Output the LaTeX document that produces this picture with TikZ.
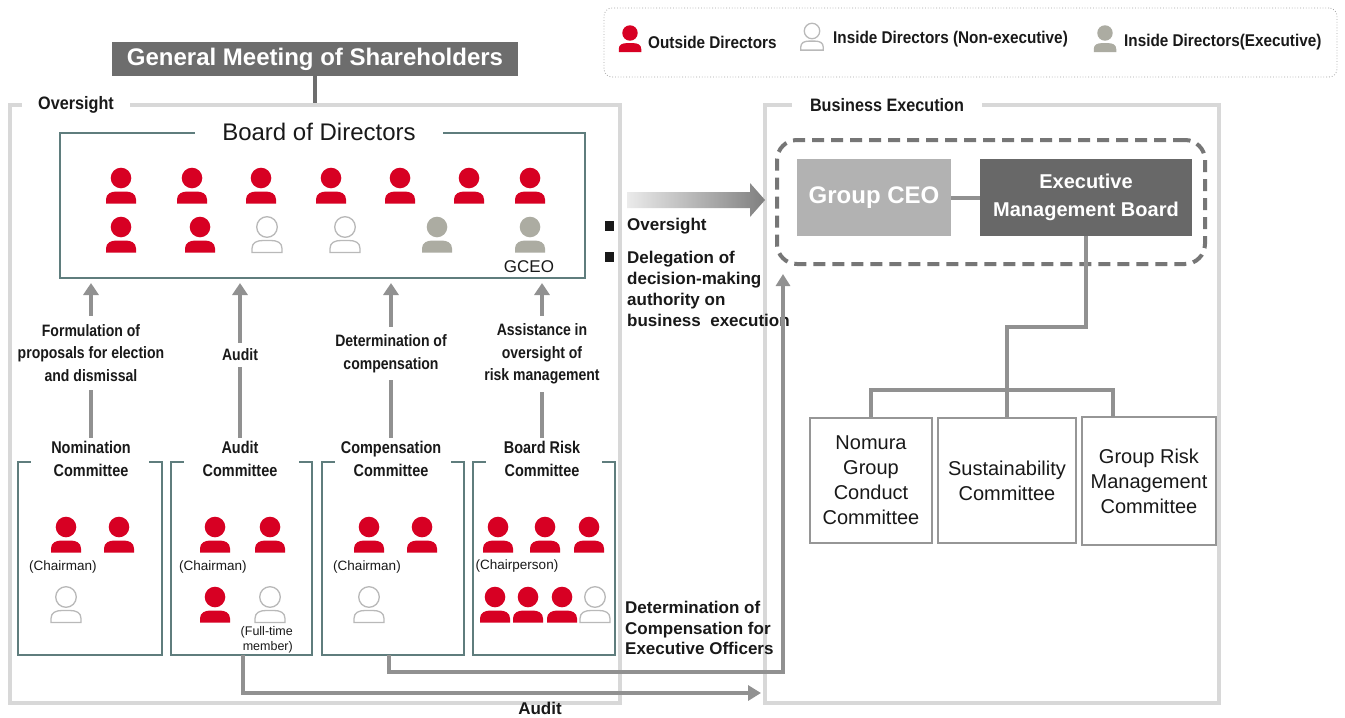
\documentclass[tikz,border=0pt]{standalone}
\usepackage{fontspec}
\setmainfont{Liberation Sans}
\newfontfamily\cond[FakeStretch=0.85]{Liberation Sans}
\newfontfamily\semic[FakeStretch=0.9]{Liberation Sans}
\usetikzlibrary{arrows.meta,calc}
\definecolor{ored}{RGB}{215,0,35}
\definecolor{egray}{RGB}{172,172,162}
\definecolor{pgray}{RGB}{185,185,185}
\definecolor{lgray}{RGB}{216,216,216}
\definecolor{tealc}{RGB}{95,125,125}
\definecolor{gmgray}{RGB}{109,109,109}
\definecolor{connc}{RGB}{145,145,145}
\definecolor{dashc}{RGB}{118,118,118}
\definecolor{ceogray}{RGB}{178,178,178}
\definecolor{embgray}{RGB}{104,104,104}
\definecolor{boxgray}{RGB}{150,150,150}
\definecolor{txt}{RGB}{25,25,25}
\begin{document}
\begin{tikzpicture}[x=1pt,y=-1pt,
  person/.pic={\path[pic actions] (0,0) circle (10.3);
    \path[pic actions] (-15,25.5) -- (-15,21.5) .. controls (-15,15.5) and (-10,13.5) .. (-4,13.5) -- (4,13.5) .. controls (10,13.5) and (15,15.5) .. (15,21.5) -- (15,25.5) -- cycle;},
  pout/.style={fill=ored},
  pin/.style={draw=pgray, fill=white, line width=1.3},
  pex/.style={fill=egray},
  container/.style={draw=lgray, line width=4, inner sep=0},
  ghost/.style={draw=none, inner sep=0},
  tealbox/.style={draw=tealc, line width=2},
  ctitle/.style={font=\cond\bfseries\fontsize{17}{23}\selectfont, align=center, text=txt, inner sep=1},
  alabel/.style={font=\cond\bfseries\fontsize{16.5}{22.5}\selectfont, align=center, text=txt, fill=white, inner xsep=2, inner ysep=8},
  uparr/.style={draw=connc, line width=4, -{Triangle[width=15pt,length=12pt]}, shorten >=4, shorten <=2},
  conn/.style={draw=connc, line width=4},
  chair/.style={font=\fontsize{13.5}{15}\selectfont, text=txt, inner sep=0},
  bodytxt/.style={font=\bfseries\fontsize{17}{21}\selectfont, text=txt, align=left, inner sep=0},
  rbox/.style={draw=boxgray, line width=2, font=\fontsize{20}{25}\selectfont, align=center, text=txt, inner sep=0},
  legtxt/.style={font=\semic\bfseries\fontsize{17}{20}\selectfont, text=txt, anchor=west, inner sep=0},
  seclabel/.style={font=\semic\bfseries\fontsize{18}{20}\selectfont, fill=white, inner ysep=3, text=txt}
]
\useasboundingbox (0,0) rectangle (1345,718);
\fill[white] (0,0) rectangle (1345,718);

% legend
\node[ghost, draw=gray!70, dotted, line width=0.8, rounded corners=8, minimum width=733, minimum height=69] (leg) at (970.5,42.5) {};
\pic[pout, scale=0.75] at (630,33) {person};
\node[legtxt] (l1) at (648,42) {Outside Directors};
\pic[pin, scale=0.75] at (812,31) {person};
\node[legtxt] (l2) at (833,39) {Inside Directors (Non-executive)};
\pic[pex, scale=0.75] at (1105,33) {person};
\node[legtxt] (l3) at (1124,42) {Inside Directors(Executive)};

% containers
\node[container, minimum width=610, minimum height=598] (ov) at (315,404) {};
\node[seclabel, inner xsep=16] (ovl) at (76,105) {Oversight};
\node[container, minimum width=454, minimum height=598] (bex) at (992,404) {};
\node[seclabel, inner xsep=18] (bexl) at (887,105) {Business Execution};

% general meeting
\node[fill=gmgray, text=white, font=\bfseries\fontsize{24}{26}\selectfont, minimum width=406, minimum height=34, inner sep=0] (gm) at (315,59) {General Meeting of Shareholders};
\draw[draw=gmgray, line width=4] (gm.south) -- (gm.south |- ov.north);

% board
\node[ghost, tealbox, minimum width=525, minimum height=145] (board) at (322.5,205.5) {};
\node[fill=white, font=\fontsize{24}{26}\selectfont, inner xsep=27, inner ysep=2, text=txt] (boardt) at (319,132) {Board of Directors};
\foreach \x in {121,192,261,331,400,469,530} \pic[pout] at (\x,178) {person};
\pic[pout] at (121,227) {person};
\pic[pout] at (200,227) {person};
\pic[pin] at (267,227) {person};
\pic[pin] at (345,227) {person};
\pic[pex] at (437,227) {person};
\pic[pex] at (530,227) {person};
\node[font=\fontsize{17}{19}\selectfont, text=txt, inner sep=0] (gceo) at (529,267) {GCEO};

% committee boxes
\node[ghost, minimum width=144, minimum height=193] (nom) at (90,558.5) {};
\node[ghost, minimum width=141, minimum height=193] (aud) at (241.5,558.5) {};
\node[ghost, minimum width=142, minimum height=193] (comp) at (393,558.5) {};
\node[ghost, minimum width=142, minimum height=193] (risk) at (544,558.5) {};
\foreach \b in {nom,aud,comp,risk}
  \draw[tealbox] ($(\b.north west)+(13,0)$) -- (\b.north west) -- (\b.south west) -- (\b.south east) -- (\b.north east) -- ($(\b.north east)+(-13,0)$);

\node[ctitle] (nomt) at (91,458.5) {Nomination\\Committee};
\node[ctitle] (audt) at (240,458.5) {Audit\\Committee};
\node[ctitle] (compt) at (391,458.5) {Compensation\\Committee};
\node[ctitle] (riskt) at (542,458.5) {Board Risk\\Committee};

% arrows to board
\draw[uparr] (nomt.north) -- (nomt.north |- board.south);
\draw[uparr] (audt.north) -- (audt.north |- board.south);
\draw[uparr] (compt.north) -- (compt.north |- board.south);
\draw[uparr] (riskt.north) -- (riskt.north |- board.south);
\node[alabel] (a1) at (91,353) {Formulation of\\proposals for election\\and dismissal};
\node[alabel, inner ysep=6] (a2) at (240,355) {Audit};
\node[alabel] (a3) at (391,353.5) {Determination of\\compensation};
\node[alabel] (a4) at (542,354) {Assistance in\\oversight of\\risk management};

% committee members
\pic[pout] at (66,527) {person};
\pic[pout] at (119,527) {person};
\node[chair] (ch1) at (63,567) {(Chairman)};
\pic[pin] at (66,597) {person};

\pic[pout] at (215,527) {person};
\pic[pout] at (270,527) {person};
\node[chair] (ch2) at (213,567) {(Chairman)};
\pic[pout] at (215,597) {person};
\pic[pin] at (270,597) {person};
\node[chair, font=\fontsize{12.5}{15}\selectfont, align=right, anchor=east] (ft) at (293,640) {(Full-time\\member)};

\pic[pout] at (369,527) {person};
\pic[pout] at (422,527) {person};
\node[chair] (ch3) at (367,567) {(Chairman)};
\pic[pin] at (369,597) {person};

\foreach \x in {498,545,589} \pic[pout] at (\x,527) {person};
\node[chair] (ch4) at (517,566) {(Chairperson)};
\foreach \x in {495,528,562} \pic[pout] at (\x,597) {person};
\pic[pin] at (595,597) {person};

% right side: execution
\node[ghost, draw=dashc, line width=4, dash pattern=on 12pt off 7pt, rounded corners=20, minimum width=428, minimum height=124] (dash) at (991,202) {};
\node[fill=ceogray, text=white, font=\bfseries\fontsize{24}{26}\selectfont, minimum width=154, minimum height=77, inner sep=0] (gceob) at (874,197.5) {Group CEO};
\node[fill=embgray, text=white, font=\bfseries\fontsize{20}{28}\selectfont, align=center, minimum width=212, minimum height=77, inner sep=0] (emb) at (1086,197.5) {Executive\\Management Board};
\draw[conn] (gceob.east) -- (emb.west);

\node[rbox, minimum width=122, minimum height=125] (ngc) at (871,480.5) {Nomura\\Group\\Conduct\\Committee};
\node[rbox, minimum width=138, minimum height=125] (sus) at (1007,480.5) {Sustainability\\Committee};
\node[rbox, minimum width=134, minimum height=128] (grm) at (1149,481) {Group Risk\\Management\\Committee};

\coordinate (j1) at (1086,327);
\coordinate (j2) at (1007,327);
\coordinate (bar) at (1007,390);
\coordinate (grmtop) at (1113,417);
\draw[conn] (emb.south) -- (j1) -- (j2) -- (sus.north);
\draw[conn] (ngc.north) |- (bar) -| (grmtop);

% gradient arrow
\shade[left color=black!8, right color=black!50] (627,192) -- (750,192) -- (750,183) -- (765,200) -- (750,217) -- (750,208) -- (627,208) -- cycle;
\fill[txt] (605,221) rectangle (614,231);
\node[bodytxt, anchor=west] (ovs) at (627,226) {Oversight};
\fill[txt] (605,252) rectangle (614,262);
\node[bodytxt, anchor=west] (dele) at (627,288.5) {Delegation of\\decision-making\\authority on\\business\ \ execution};

% bottom connectors
\coordinate (c1) at (389,672);
\coordinate (c2) at (783,672);
\draw[conn, -{Triangle[width=14pt,length=12pt]}, shorten >=8] (comp.south -| c1) -- (c1) -- (c2) -- (c2 |- dash.south);
\coordinate (au1) at (243,693);
\draw[conn, -{Triangle[width=15pt,length=13pt]}, shorten >=2] (aud.south -| au1) -- (au1) -- (au1 -| bex.west);
\node[bodytxt, anchor=west, font=\bfseries\fontsize{17}{20.5}\selectfont] (detc) at (625,628) {Determination of\\Compensation for\\Executive Officers};
\node[bodytxt] (audl) at (540,708) {Audit};
\end{tikzpicture}
\end{document}
